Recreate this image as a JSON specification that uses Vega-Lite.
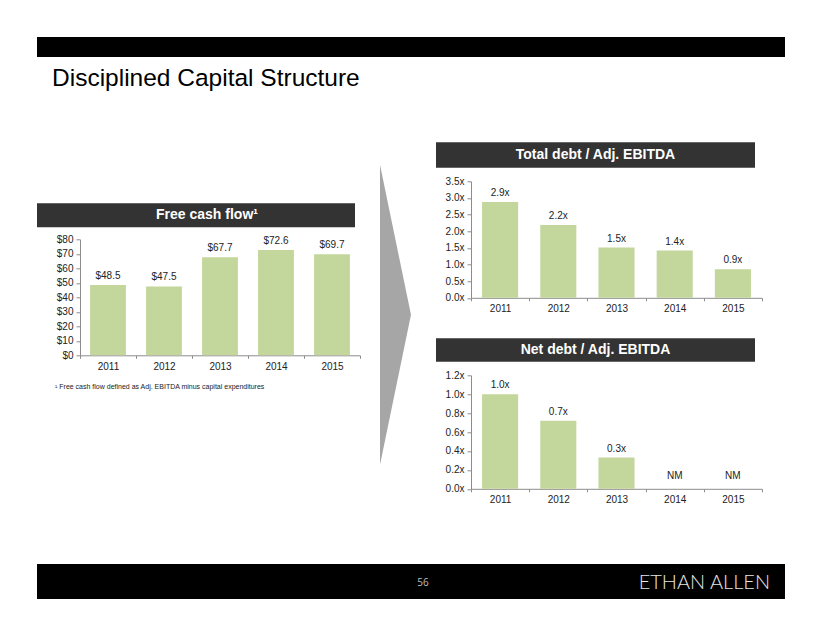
{
  "$schema": "https://vega.github.io/schema/vega-lite/v6.json",
  "background": "white",
  "padding": {"left": 37, "top": 37, "right": 5, "bottom": 5},
  "config": {
    "font": "Liberation Sans",
    "view": {"stroke": null},
    "axis": {"grid": false, "labelFont": "Liberation Sans", "labelFontSize": 10, "labelColor": "#222222", "domainColor": "#8c8c8c", "tickColor": "#8c8c8c", "tickSize": 4, "labelPadding": 3, "title": null},
    "text": {"font": "Liberation Sans"}
  },
  "spacing": 59,
  "vconcat": [
    {
      "spacing": 51.3,
      "vconcat": [
        {
          "width": 748, "height": 20,
          "view": {"fill": "#000000", "stroke": null},
          "title": {"text": "Disciplined Capital Structure", "orient": "bottom", "anchor": "start", "offset": 10.2, "dx": 15, "fontSize": 24.5, "fontWeight": "normal", "color": "#000000", "font": "Liberation Sans"},
          "data": {"values": [{"t": ""}]},
          "mark": {"type": "text"},
          "encoding": {"text": {"field": "t"}}
        },
        {
          "spacing": 19,
          "hconcat": [
            {
              "bounds": "flush", "spacing": 12,
              "vconcat": [
                {"width": 10, "height": 49, "data": {"values": [{"t": ""}]}, "mark": {"type": "text"}, "encoding": {"text": {"field": "t"}}},
                {"width": 318, "height": 24, "view": {"fill": "#333333", "stroke": null},
                 "data": {"values": [{"label": "Free cash flow¹"}]},
                 "mark": {"type": "text", "color": "white", "fontSize": 14, "fontWeight": "bold", "dx": 11},
                 "encoding": {"text": {"field": "label"}}},
                {
                  "width": 323, "height": 116,
                  "title": {"text": "¹ Free cash flow defined as  Adj. EBITDA minus capital expenditures", "orient": "bottom", "anchor": "start", "offset": 11.5, "dx": 18, "fontSize": 7, "fontWeight": "normal", "color": "#222222"},
                  "data": {"values": [
                    {"year": "2011", "fcf": 48.5},
                    {"year": "2012", "fcf": 47.5},
                    {"year": "2013", "fcf": 67.7},
                    {"year": "2014", "fcf": 72.6},
                    {"year": "2015", "fcf": 69.7}
                  ]},
                  "encoding": {
                    "x": {"field": "year", "type": "ordinal", "scale": {"range": [43, 323], "paddingInner": 0, "paddingOuter": 0}, "axis": {"title": null, "labelAngle": 0, "tickBand": "extent", "tickSize": 3}},
                    "y": {"field": "fcf", "type": "quantitative", "scale": {"domain": [0, 80], "nice": false}, "axis": {"title": null, "values": [0, 10, 20, 30, 40, 50, 60, 70, 80], "labelExpr": "'$' + datum.value", "offset": -43}}
                  },
                  "layer": [
                    {"mark": {"type": "bar", "color": "#C3D69B", "width": {"band": 0.64}}},
                    {"mark": {"type": "text", "baseline": "bottom", "dy": -4, "fontSize": 10, "color": "#222222"}, "encoding": {"text": {"field": "fcf", "format": "$.1f"}}}
                  ]
                }
              ]
            },
            {
              "width": 37, "height": 345,
              "data": {"values": [{"x": 0, "lo": -1, "hi": 1}, {"x": 1, "lo": 0, "hi": 0}]},
              "mark": {"type": "area", "color": "#a6a6a6", "opacity": 1},
              "encoding": {
                "x": {"field": "x", "type": "quantitative", "scale": {"domain": [0, 1.194], "nice": false, "zero": false}, "axis": null},
                "y": {"field": "lo", "type": "quantitative", "scale": {"domain": [-1.15, 1.15], "nice": false}, "axis": null, "stack": null},
                "y2": {"field": "hi"}
              }
            },
            {
              "bounds": "flush", "spacing": 13,
              "vconcat": [
                {"width": 319, "height": 25.5, "view": {"fill": "#333333", "stroke": null},
                 "data": {"values": [{"label": "Total debt / Adj. EBITDA"}]},
                 "mark": {"type": "text", "color": "white", "fontSize": 14, "fontWeight": "bold"},
                 "encoding": {"text": {"field": "label"}}},
                {
                  "width": 327, "height": 116.5,
                  "data": {"values": [
                    {"year": "2011", "ratio": 2.88, "label": "2.9x"},
                    {"year": "2012", "ratio": 2.19, "label": "2.2x"},
                    {"year": "2013", "ratio": 1.51, "label": "1.5x"},
                    {"year": "2014", "ratio": 1.42, "label": "1.4x"},
                    {"year": "2015", "ratio": 0.86, "label": "0.9x"}
                  ]},
                  "encoding": {
                    "x": {"field": "year", "type": "ordinal", "scale": {"range": [35, 326], "paddingInner": 0, "paddingOuter": 0}, "axis": {"title": null, "labelAngle": 0, "tickBand": "extent", "tickSize": 3}},
                    "y": {"field": "ratio", "type": "quantitative", "scale": {"domain": [0, 3.5], "nice": false}, "axis": {"title": null, "values": [0, 0.5, 1, 1.5, 2, 2.5, 3, 3.5], "labelExpr": "format(datum.value, '.1f') + 'x'", "offset": -35}}
                  },
                  "layer": [
                    {"mark": {"type": "bar", "color": "#C3D69B", "width": {"band": 0.62}}},
                    {"mark": {"type": "text", "baseline": "bottom", "dy": -4, "fontSize": 10, "color": "#222222"}, "encoding": {"text": {"field": "label"}}}
                  ]
                },
                {"width": 10, "height": 14, "data": {"values": [{"t": ""}]}, "mark": {"type": "text"}, "encoding": {"text": {"field": "t"}}},
                {"width": 319, "height": 23.5, "view": {"fill": "#333333", "stroke": null},
                 "data": {"values": [{"label": "Net debt / Adj. EBITDA"}]},
                 "mark": {"type": "text", "color": "white", "fontSize": 14, "fontWeight": "bold"},
                 "encoding": {"text": {"field": "label"}}},
                {
                  "width": 327, "height": 113.5,
                  "data": {"values": [
                    {"year": "2011", "ratio": 1.0, "label": "1.0x"},
                    {"year": "2012", "ratio": 0.72, "label": "0.7x"},
                    {"year": "2013", "ratio": 0.33, "label": "0.3x"},
                    {"year": "2014", "ratio": null, "label": "NM"},
                    {"year": "2015", "ratio": null, "label": "NM"}
                  ]},
                  "layer": [
                    {"mark": {"type": "bar", "color": "#C3D69B", "width": {"band": 0.62}},
                     "encoding": {
                       "x": {"field": "year", "type": "ordinal", "scale": {"domain": ["2011", "2012", "2013", "2014", "2015"], "range": [35, 326], "paddingInner": 0, "paddingOuter": 0}, "axis": {"title": null, "labelAngle": 0, "tickBand": "extent", "tickSize": 3}},
                       "y": {"field": "ratio", "type": "quantitative", "scale": {"domain": [0, 1.2], "nice": false}, "axis": {"title": null, "values": [0, 0.2, 0.4, 0.6, 0.8, 1, 1.2], "labelExpr": "format(datum.value, '.1f') + 'x'", "offset": -35}}
                     }},
                    {"mark": {"type": "text", "baseline": "bottom", "dy": -4, "fontSize": 10, "color": "#222222"},
                     "encoding": {
                       "x": {"field": "year", "type": "ordinal", "scale": {"domain": ["2011", "2012", "2013", "2014", "2015"], "range": [35, 326], "paddingInner": 0, "paddingOuter": 0}, "axis": {"title": null, "labelAngle": 0, "tickBand": "extent", "tickSize": 3}},
                       "y": {"field": "ratio", "type": "quantitative", "scale": {"domain": [0, 1.2], "nice": false}, "axis": {"title": null, "values": [0, 0.2, 0.4, 0.6, 0.8, 1, 1.2], "labelExpr": "format(datum.value, '.1f') + 'x'", "offset": -35}},
                       "text": {"field": "label"}}},
                    {"transform": [{"filter": "datum.ratio === null"}],
                     "mark": {"type": "text", "baseline": "bottom", "dy": -8, "fontSize": 10, "color": "#222222", "invalid": null},
                     "encoding": {
                       "x": {"field": "year", "type": "ordinal", "scale": {"domain": ["2011", "2012", "2013", "2014", "2015"], "range": [35, 326], "paddingInner": 0, "paddingOuter": 0}, "axis": {"title": null, "labelAngle": 0, "tickBand": "extent", "tickSize": 3}},
                       "y": {"datum": 0, "type": "quantitative", "scale": {"domain": [0, 1.2], "nice": false}, "axis": {"title": null, "values": [0, 0.2, 0.4, 0.6, 0.8, 1, 1.2], "labelExpr": "format(datum.value, '.1f') + 'x'", "offset": -35}},
                       "text": {"field": "label"}}}
                  ]
                }
              ]
            }
          ]
        }
      ]
    },
    {
      "width": 748, "height": 35,
      "view": {"fill": "#000000", "stroke": null},
      "layer": [
        {"data": {"values": [{"t": "56"}]}, "mark": {"type": "text", "color": "#bfbfbf", "fontSize": 10, "font": "Open Sans", "dx": 12, "dy": 1}, "encoding": {"text": {"field": "t"}}},
        {"data": {"values": [{"t": "ETHAN ALLEN"}]}, "mark": {"type": "text", "color": "#e6e6e6", "fontSize": 20, "font": "Lato", "fontWeight": 300, "align": "right", "x": "width", "dx": -15, "dy": 1}, "encoding": {"text": {"field": "t"}}}
      ]
    }
  ]
}
